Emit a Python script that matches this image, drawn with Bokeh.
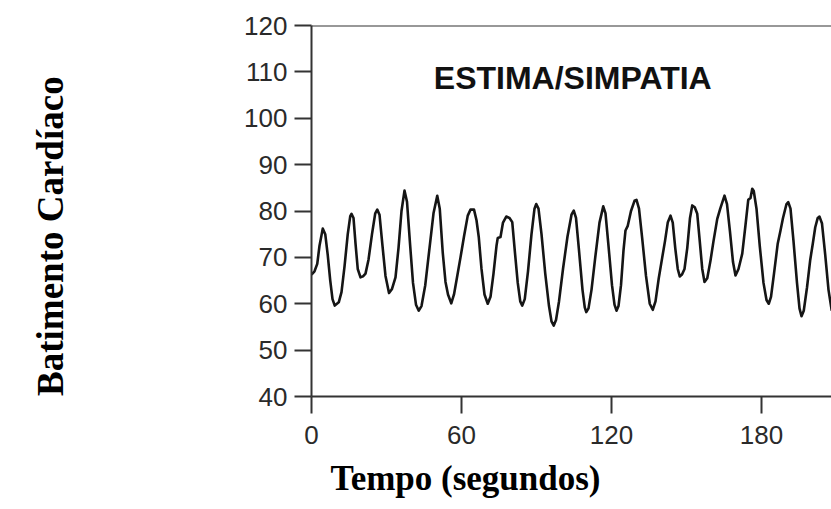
import math
from bokeh.plotting import figure
from bokeh.layouts import row
from bokeh.models import Range1d, FixedTicker, Span, Label, Title
from bokeh.core.properties import value
from bokeh.embed import file_html
from bokeh.resources import INLINE

# Data (time in seconds, heart rate in bpm)
tempo = [0.0, 1.2, 2.3, 3.2, 4.5, 5.5, 6.5, 7.5, 8.4, 9.3, 10.9, 12.0, 13.2, 14.5, 15.5,
         16.0, 16.8, 17.6, 18.5, 19.6, 20.6, 21.6, 22.8, 24.2, 25.5, 26.3, 27.2, 28.3,
         29.6, 31.0, 32.2, 33.6, 34.8, 36.0, 37.2, 38.2, 39.4, 40.6, 41.8, 42.9, 44.0,
         45.5, 47.2, 48.8, 50.3, 51.3, 52.5, 53.6, 54.6, 55.9, 57.0, 58.3, 59.6, 61.0,
         62.5, 63.6, 65.0, 66.0, 66.9, 68.0, 69.2, 70.5, 71.6, 72.8, 74.0, 74.5, 75.6,
         76.6, 77.9, 79.2, 80.3, 81.3, 82.5, 83.5, 84.3, 85.3, 86.6, 88.0, 89.2, 89.9,
         90.8, 92.0, 93.5, 95.0, 96.0, 96.9, 97.8, 99.0, 100.6, 102.4, 104.0, 104.9,
         105.8, 107.0, 108.4, 109.3, 109.9, 110.8, 112.0, 113.5, 115.2, 116.7, 117.6,
         118.8, 120.2, 121.2, 122.0, 122.8, 123.8, 124.8, 125.6, 126.5, 127.8, 129.2,
         130.0, 131.0, 132.3, 133.8, 135.3, 136.5, 137.6, 138.9, 140.3, 141.4, 142.5,
         143.6, 144.5, 145.5, 146.5, 147.3, 148.2, 149.2, 150.3, 151.4, 152.3, 153.3,
         154.3, 155.3, 156.3, 157.2, 158.3, 159.6, 160.8, 162.3, 163.5, 165.2, 166.2,
         167.4, 168.6, 169.6, 170.8, 172.3, 173.5, 174.7, 175.6, 176.3, 176.9, 178.0,
         179.3, 180.8, 182.0, 182.9, 183.8, 185.0, 186.5, 187.6, 188.6, 190.0, 190.7,
         191.6, 192.8, 194.2, 195.2, 196.0, 196.9, 198.2, 199.5, 200.5, 201.5, 202.5,
         203.2, 204.2, 205.5, 206.8, 208.1]
batimento = [66.3, 67.0, 68.6, 72.5, 76.2, 75.0, 70.5, 65.0, 61.0, 59.6, 60.3, 62.5, 68.0,
             75.0, 78.9, 79.4, 78.5, 73.0, 67.5, 65.7, 65.9, 66.5, 69.5, 75.0, 79.5, 80.3,
             79.2, 73.0, 66.0, 62.3, 63.2, 65.7, 72.0, 80.0, 84.4, 82.0, 73.0, 64.5, 59.8,
             58.5, 59.5, 64.0, 72.0, 79.5, 83.3, 80.5, 71.0, 64.7, 62.0, 60.1, 62.0, 66.0,
             70.0, 74.5, 79.0, 80.3, 80.3, 78.0, 74.4, 67.5, 62.0, 60.0, 61.5, 66.5, 72.5,
             74.2, 74.4, 77.5, 78.8, 78.5, 77.6, 71.5, 64.5, 60.5, 59.6, 61.0, 67.0, 75.0,
             80.5, 81.5, 80.5, 75.0, 66.5, 59.5, 56.2, 55.3, 56.5, 60.5, 67.5, 74.5, 79.2,
             80.1, 78.5, 71.5, 63.0, 59.2, 58.2, 59.0, 63.0, 70.0, 77.5, 81.0, 79.5, 72.5,
             64.0, 59.8, 58.5, 59.5, 64.0, 71.5, 75.8, 76.8, 80.0, 82.2, 82.4, 80.5, 74.0,
             66.0, 60.0, 58.7, 60.5, 65.5, 70.0, 73.5, 77.5, 79.0, 77.5, 72.0, 67.5, 65.9,
             66.3, 67.5, 72.0, 78.5, 81.2, 80.8, 79.4, 73.5, 67.5, 64.7, 65.5, 69.3, 73.5,
             78.3, 80.5, 83.3, 81.5, 75.5, 69.0, 66.1, 67.5, 70.8, 76.5, 82.4, 82.8, 84.8,
             84.3, 80.5, 72.5, 64.5, 60.8, 60.0, 61.5, 66.5, 73.0, 75.8, 78.5, 81.5, 81.9,
             80.5, 73.5, 64.5, 59.0, 57.3, 58.5, 63.5, 69.5, 72.9, 76.5, 78.5, 78.8, 77.3,
             70.5, 63.0, 58.5]
x_ticks = [0, 60, 120, 180]
y_ticks = [40, 50, 60, 70, 80, 90, 100, 110, 120]
titulo = "ESTIMA/SIMPATIA"
x_titulo = "Tempo (segundos)"
y_titulo = "Batimento Cardíaco"

# narrow side panel holding the vertical axis title
yfig = figure(width=80, height=509, output_backend="svg", toolbar_location=None,
              x_range=Range1d(0, 80), y_range=Range1d(0, 509),
              x_axis_location=None, y_axis_location=None, min_border=0)
yfig.outline_line_color = None
yfig.grid.visible = False
yfig.text(x=[50], y=[220], text=[y_titulo], angle=math.pi / 2,
          text_align="center", text_baseline="middle",
          text_font=value("Liberation Serif"), text_font_style="bold",
          text_font_size="37px", text_color="black")

p = figure(width=751, height=509, output_backend="svg", toolbar_location=None,
           x_range=Range1d(0, 208), y_range=Range1d(40, 120),
           min_border_left=231, min_border_right=0, min_border_top=25,
           min_border_bottom=113)
p.outline_line_color = None
p.grid.visible = False
p.background_fill_color = "white"
p.border_fill_color = "white"

for ax in (p.xaxis[0], p.yaxis[0]):
    ax.axis_line_color = "#333333"
    ax.axis_line_width = 2
    ax.major_tick_line_color = "#333333"
    ax.major_tick_line_width = 2
    ax.major_tick_in = 0
    ax.major_tick_out = 17
    ax.minor_tick_line_color = None
    ax.major_label_text_font = "Liberation Sans"
    ax.major_label_text_font_size = "26px"
    ax.major_label_text_color = "#2a2a2a"

p.xaxis.ticker = FixedTicker(ticks=x_ticks)
p.yaxis.ticker = FixedTicker(ticks=y_ticks)
p.xaxis.major_label_standoff = 12
p.yaxis.major_label_standoff = 7

p.add_layout(Span(location=120, dimension="width", line_color="#333333", line_width=2))

p.line(tempo, batimento, line_color="#151515", line_width=2.6, line_join="round")

p.add_layout(Label(x=104.5, y=108.7, text=titulo, text_align="center",
                   text_baseline="middle", text_font="Liberation Sans",
                   text_font_style="bold", text_font_size="32px",
                   text_color="#111111"))

p.add_layout(Title(text=x_titulo, text_font="Liberation Serif", text_font_style="bold",
                   text_font_size="35px", text_color="black", align="left",
                   offset=19, standoff=20), "below")

layout = row(yfig, p)
open("out.html", "w").write(file_html(layout, INLINE))
